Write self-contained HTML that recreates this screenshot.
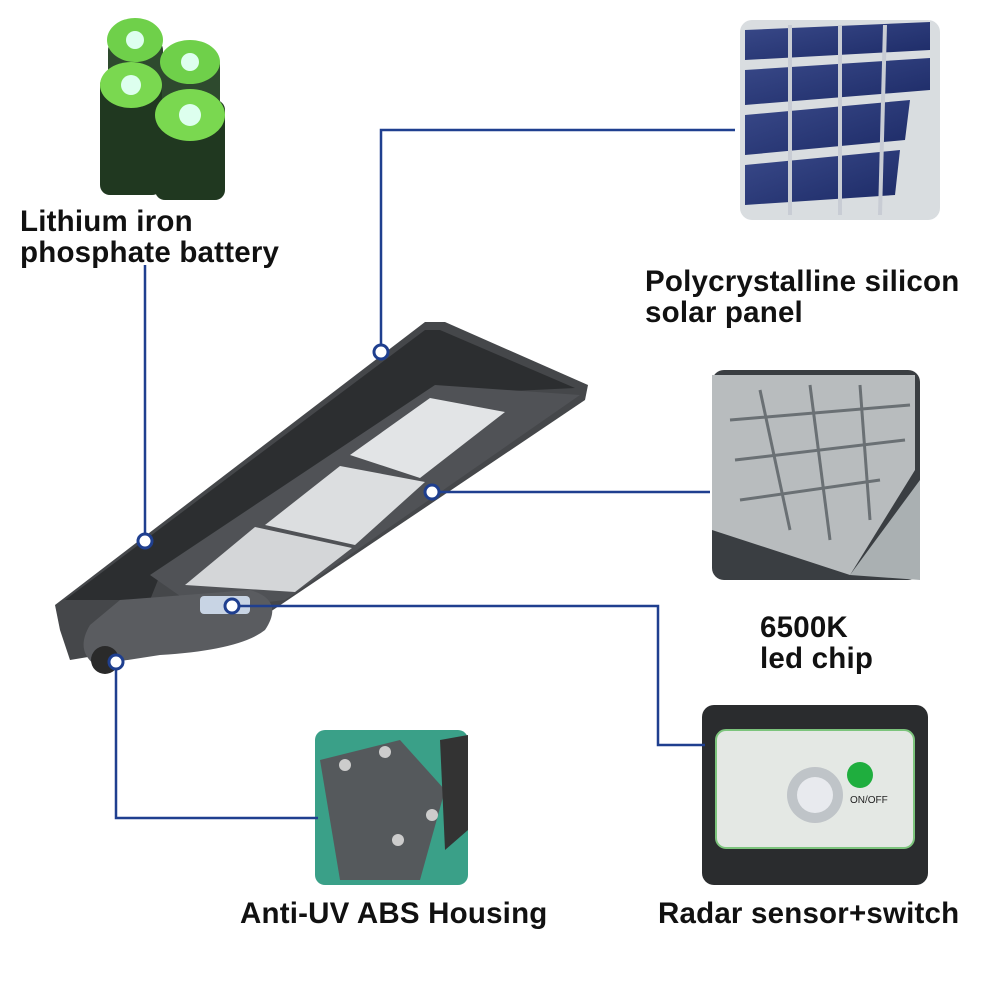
<!DOCTYPE html>
<html><head><meta charset="utf-8"><style>
body{margin:0;background:#fff;width:1000px;height:1000px;position:relative;overflow:hidden;font-family:"Liberation Sans",sans-serif}
.t{position:absolute;font-weight:bold;font-size:29.5px;line-height:31px;color:#111;letter-spacing:0.2px;white-space:nowrap}
svg{position:absolute;left:0;top:0}
</style></head><body>
<svg width="1000" height="1000" viewBox="0 0 1000 1000">
<defs>
<linearGradient id="sp" x1="0" y1="0" x2="1" y2="1"><stop offset="0" stop-color="#3a4a8a"/><stop offset="1" stop-color="#1c2a66"/></linearGradient>
</defs>
<g>
<rect x="108" y="40" width="55" height="120" rx="10" fill="#2e4a2e"/>
<rect x="160" y="55" width="60" height="110" rx="10" fill="#2e4a2e"/>
<rect x="100" y="75" width="62" height="120" rx="10" fill="#203820"/>
<rect x="155" y="100" width="70" height="100" rx="10" fill="#203820"/>
<ellipse cx="135" cy="40" rx="28" ry="22" fill="#6fd04a"/>
<ellipse cx="190" cy="62" rx="30" ry="22" fill="#6fd04a"/>
<ellipse cx="131" cy="85" rx="31" ry="23" fill="#7ad850"/>
<ellipse cx="190" cy="115" rx="35" ry="26" fill="#7ad850"/>
<circle cx="135" cy="40" r="9" fill="#dfe"/><circle cx="190" cy="62" r="9" fill="#dfe"/>
<circle cx="131" cy="85" r="10" fill="#dfe"/><circle cx="190" cy="115" r="11" fill="#dfe"/>
</g>
<rect x="740" y="20" width="200" height="200" rx="12" fill="#d9dde0"/>
<g fill="url(#sp)">
<polygon points="745,30 930,22 930,50 745,60"/>
<polygon points="745,70 930,58 930,90 745,105"/>
<polygon points="745,115 910,100 905,140 745,155"/>
<polygon points="745,165 900,150 895,195 745,205"/>
</g>
<g stroke="#c8ccd4" stroke-width="4"><line x1="790" y1="25" x2="790" y2="215"/><line x1="840" y1="25" x2="840" y2="215"/><line x1="885" y1="25" x2="880" y2="215"/></g>
<rect x="712" y="370" width="208" height="210" rx="12" fill="#3a3e42"/>
<polygon points="712,375 915,375 915,470 850,575 712,530" fill="#b8bcbe"/>
<g stroke="#6a7074" stroke-width="3" fill="none">
<line x1="730" y1="420" x2="910" y2="405"/><line x1="735" y1="460" x2="905" y2="440"/><line x1="740" y1="500" x2="880" y2="480"/>
<line x1="760" y1="390" x2="790" y2="530"/><line x1="810" y1="385" x2="830" y2="540"/><line x1="860" y1="385" x2="870" y2="520"/>
</g>
<polygon points="850,575 920,480 920,580" fill="#aab0b2"/>
<rect x="702" y="705" width="226" height="180" rx="12" fill="#2a2c2e"/>
<rect x="716" y="730" width="198" height="118" rx="10" fill="#e4e8e4" stroke="#7cc47c" stroke-width="2"/>
<circle cx="815" cy="795" r="28" fill="#bfc4c8"/><circle cx="815" cy="795" r="18" fill="#e8eaee"/>
<circle cx="860" cy="775" r="13" fill="#1fae3e"/>
<text x="850" y="803" font-size="10" font-family="Liberation Sans" fill="#222">ON/OFF</text>
<rect x="315" y="730" width="153" height="155" rx="10" fill="#3aa088"/>
<polygon points="320,760 400,740 445,790 420,880 340,880 330,820" fill="#55595c"/>
<polygon points="440,740 468,735 468,830 445,850" fill="#333"/>
<circle cx="345" cy="765" r="6" fill="#ccc"/><circle cx="385" cy="752" r="6" fill="#ccc"/><circle cx="398" cy="840" r="6" fill="#ccc"/><circle cx="432" cy="815" r="6" fill="#ccc"/>
<polygon points="55,605 425,322 445,322 588,385 585,400 270,612 190,640 70,660 60,630" fill="#45474a"/>
<polygon points="65,600 425,330 440,330 575,388 430,395 160,575 150,600" fill="#2c2e30"/>
<polygon points="150,575 435,385 580,395 285,600 200,610" fill="#505256"/>
<polygon points="350,455 430,398 505,412 420,478" fill="#e2e4e6"/>
<polygon points="265,525 340,466 425,482 355,545" fill="#dcdee0"/>
<polygon points="185,585 255,527 352,548 295,592" fill="#d4d6d8"/>
<path d="M120,600 L250,590 Q285,600 265,630 Q240,650 160,655 L95,665 Q75,650 90,625 Z" fill="#5a5c60"/>
<rect x="200" y="596" width="50" height="18" rx="4" fill="#c8d4e4"/>
<circle cx="105" cy="660" r="14" fill="#2a2a2a"/>
<g stroke="#1f3f8f" stroke-width="2.5" fill="none">
<polyline points="381,352 381,130 735,130"/>
<polyline points="432,492 710,492"/>
<polyline points="145,541 145,265"/>
<polyline points="232,606 658,606 658,745 705,745"/>
<polyline points="116,662 116,818 318,818"/>
</g>
<g fill="#fff" stroke="#1f3f8f" stroke-width="3">
<circle cx="381" cy="352" r="7"/><circle cx="432" cy="492" r="7"/><circle cx="145" cy="541" r="7"/><circle cx="232" cy="606" r="7"/><circle cx="116" cy="662" r="7"/>
</g>
</svg>
<div class="t" style="left:20px;top:206px">Lithium iron<br>phosphate battery</div>
<div class="t" style="left:645px;top:266px">Polycrystalline silicon<br>solar panel</div>
<div class="t" style="left:760px;top:612px">6500K<br>led chip</div>
<div class="t" style="left:658px;top:898px">Radar sensor+switch</div>
<div class="t" style="left:240px;top:898px">Anti-UV ABS Housing</div>
</body></html>
